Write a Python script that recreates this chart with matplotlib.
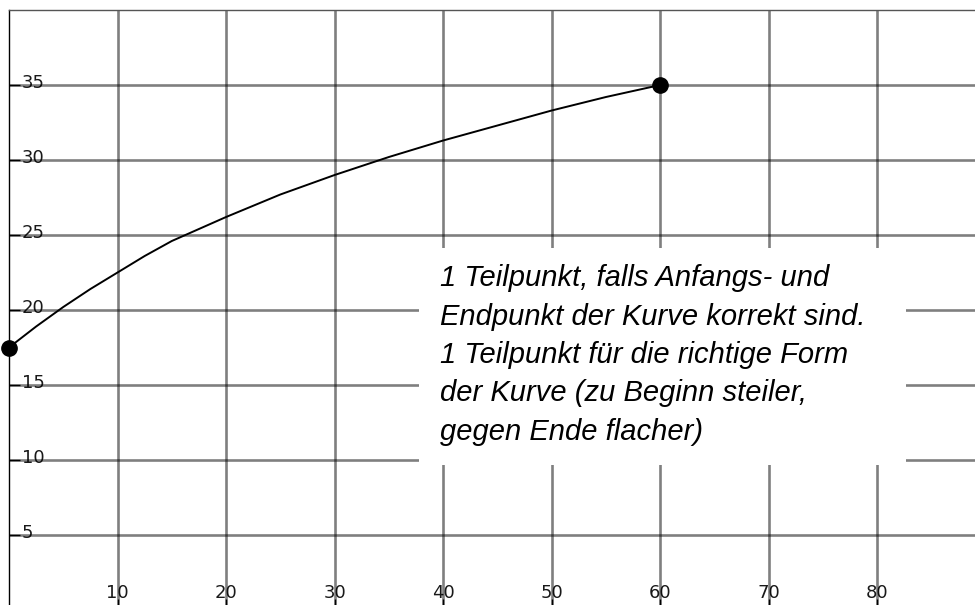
import numpy as np
import matplotlib
matplotlib.use("Agg")
import matplotlib.pyplot as plt
import matplotlib.transforms as mtransforms
from matplotlib.patches import Rectangle

# curve values
kurve_x = [0, 2.5, 5, 7.5, 10, 12.5, 15, 17.5, 20, 25, 30, 35, 40, 45, 50, 55, 60]
kurve_y = [17.5, 18.9, 20.2, 21.4, 22.5, 23.6, 24.6, 25.4, 26.2, 27.7, 29.0, 30.2, 31.3, 32.3, 33.3, 34.2, 35.0]
punkte_x = [0, 60]
punkte_y = [17.5, 35.0]

xticks = [10, 20, 30, 40, 50, 60, 70, 80]
yticks = [5, 10, 15, 20, 25, 30, 35]

hinweis = ("1 Teilpunkt, falls Anfangs- und\n"
           "Endpunkt der Kurve korrekt sind.\n"
           "1 Teilpunkt für die richtige Form\n"
           "der Kurve (zu Beginn steiler,\n"
           "gegen Ende flacher)")

fig = plt.figure(figsize=(9.75, 6.05), dpi=100)
ax = fig.add_axes([9/975, -5/605, 966/975, 600/605])

ax.set_xlim(0, 89)
ax.set_ylim(0, 40)
ax.set_xticks(xticks)
ax.set_yticks(yticks)
ax.grid(True, color='black', alpha=0.5, lw=1.9)
ax.set_axisbelow(True)

ax.spines['right'].set_visible(False)
ax.spines['top'].set_color('#555555')
ax.spines['top'].set_linewidth(1.0)
ax.spines['left'].set_linewidth(1.0)

ax.tick_params(axis='y', direction='in', length=8, width=1, pad=-9.4, labelsize=13, colors='black')
ax.tick_params(axis='x', direction='in', length=8, width=1, pad=-19.0, labelsize=13, colors='black')
hoch = mtransforms.ScaledTranslation(0, 2/100, fig.dpi_scale_trans)
for lab in ax.get_yticklabels():
    lab.set_horizontalalignment('left')
    lab.set_verticalalignment('center')
    lab.set_transform(lab.get_transform() + hoch)
    lab.set_alpha(0.9)
for lab in ax.get_xticklabels():
    lab.set_alpha(0.9)

ax.plot(kurve_x, kurve_y, color='black', lw=1.4, zorder=4, solid_joinstyle='round')
ax.plot(punkte_x, punkte_y, 'o', color='black', ms=11, zorder=5, clip_on=False)

# white box behind the note
ax.add_patch(Rectangle((37.8, 9.7), 44.8, 14.4, facecolor='white', edgecolor='none', zorder=3))
ax.text(39.7, 23.05, hinweis, fontsize=21, family='Liberation Sans', style='italic',
        va='top', ha='left', linespacing=1.47, zorder=6)

plt.savefig('out.png', dpi=100)
